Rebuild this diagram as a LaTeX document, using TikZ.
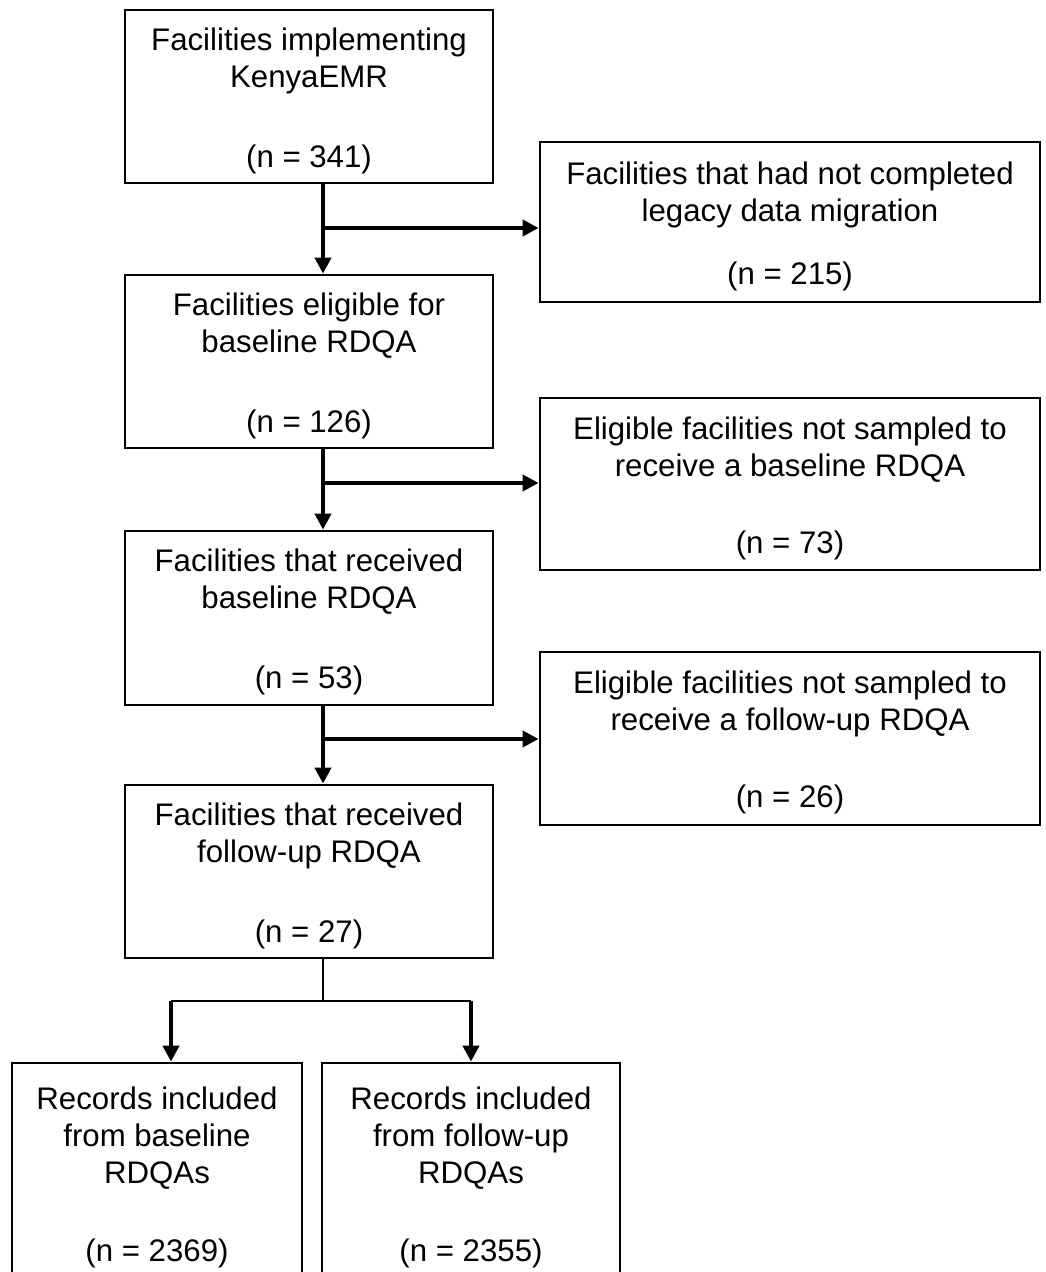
\documentclass[tikz,border=0pt]{standalone}
\usepackage{fontspec}
\setmainfont{Liberation Sans}
\usetikzlibrary{arrows.meta}
\newcommand\mytopstrut{\rule{0pt}{31pt}}
\tikzset{
  box/.style={draw, line width=2.8pt, inner sep=0pt, align=center, font=\fontsize{31.2}{37}\selectfont},
  arr/.style={line width=4pt, -{Triangle[width=16pt,length=16pt]}},
  stemline/.style={line width=2.2pt}
}
\begin{document}
\begin{tikzpicture}[x=1pt,y=-1pt]
\useasboundingbox (0,0) rectangle (1045,1272);
% main column
\node[box, minimum width=368pt, minimum height=173pt] (b1) at (309,96.5) {\mytopstrut Facilities implementing\\KenyaEMR\\[43pt](n = 341)};
\node[box, minimum width=368pt, minimum height=173pt] (b2) at (309,361.5) {\mytopstrut Facilities eligible for\\baseline RDQA\\[43pt](n = 126)};
\node[box, minimum width=368pt, minimum height=174pt] (b3) at (309,618) {\mytopstrut Facilities that received\\baseline RDQA\\[43pt](n = 53)};
\node[box, minimum width=368pt, minimum height=173pt] (b4) at (309,871.5) {\mytopstrut Facilities that received\\follow-up RDQA\\[43pt](n = 27)};
% right column
\node[box, minimum width=500pt, minimum height=160pt] (r1) at (790,222) {\mytopstrut Facilities that had not completed\\legacy data migration\\[26pt](n = 215)};
\node[box, minimum width=500pt, minimum height=172pt] (r2) at (790,484) {\mytopstrut Eligible facilities not sampled to\\receive a baseline RDQA\\[40pt](n = 73)};
\node[box, minimum width=500pt, minimum height=173pt] (r3) at (790,738.5) {\mytopstrut Eligible facilities not sampled to\\receive a follow-up RDQA\\[40pt](n = 26)};
% bottom
\node[box, minimum width=290pt, minimum height=221pt] (c1) at (157,1173.5) {\mytopstrut Records included\\from baseline\\RDQAs\\[41pt](n = 2369)};
\node[box, minimum width=298pt, minimum height=221pt] (c2) at (471,1173.5) {\mytopstrut Records included\\from follow-up\\RDQAs\\[41pt](n = 2355)};
% connectors
\coordinate (j1) at (323,228);
\coordinate (j2) at (323,483);
\coordinate (j3) at (323,739);
\draw[arr] (j1 |- b1.south) -- (j1 |- b2.north);
\draw[arr] (j1) -- (j1 -| r1.west);
\draw[arr] (j2 |- b2.south) -- (j2 |- b3.north);
\draw[arr] (j2) -- (j2 -| r2.west);
\draw[arr] (j3 |- b3.south) -- (j3 |- b4.north);
\draw[arr] (j3) -- (j3 -| r3.west);
\coordinate (k) at (323,1001);
\coordinate (kl) at (171,1001);
\coordinate (kr) at (471,1001);
\draw[stemline] (k |- b4.south) -- (k);
\draw[stemline] (kl) -- (kr);
\draw[arr] (kl) -- (kl |- c1.north);
\draw[arr] (kr) -- (kr |- c2.north);
\end{tikzpicture}
\end{document}
